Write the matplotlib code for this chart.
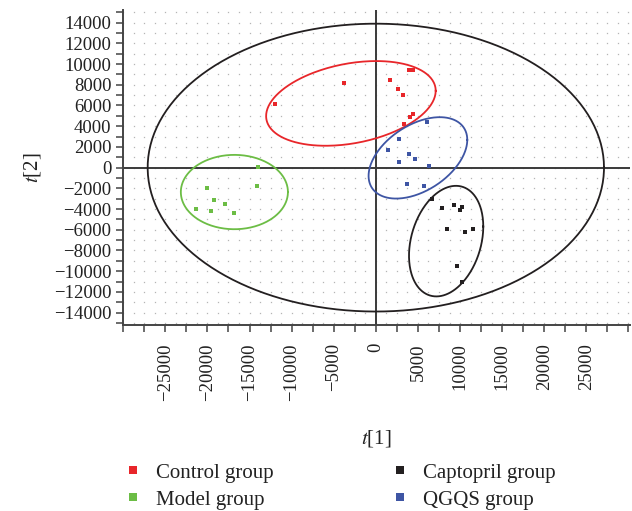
import numpy as np
import matplotlib
matplotlib.use("Agg")
import matplotlib.pyplot as plt
from matplotlib.ticker import MultipleLocator

plt.rcParams['font.family'] = ['Liberation Serif', 'DejaVu Serif']
plt.rcParams['mathtext.fontset'] = 'stix'

# score values
control_x = [-12000, -3750, 1700, 2640, 3200, 3950, 4420, 4420, 4060, 3350]
control_y = [6150, 8150, 8500, 7600, 7050, 9460, 9460, 5200, 4860, 4250]
model_x = [-14000, -14100, -20000, -19200, -17900, -21400, -19600, -16800]
model_y = [100, -1800, -2000, -3100, -3500, -4000, -4200, -4400]
capto_x = [6670, 7860, 9280, 10230, 9990, 8450, 10580, 11530, 9630, 10230]
capto_y = [-3050, -3860, -3570, -3760, -4080, -5950, -6200, -5890, -9520, -11000]
qgqs_x = [6080, 2760, 1460, 3950, 4660, 2760, 6320, 3710, 5720]
qgqs_y = [4380, 2740, 1680, 1290, 870, 520, 190, -1600, -1800]

# confidence ellipses: centre x, centre y, half width, half height, y-offset at rightmost point
ell_total = (0, 0, 27100, 13900, 0)
ell_control = (-2960, 6200, 10070, 4090, 1220)
ell_model = (-16800, -2360, 6360, 3590, 0)
ell_capto = (8350, -7100, 4410, 5340, 1410)
ell_qgqs = (5000, 940, 5860, 3930, 1740)

red = '#e8262a'
green = '#6cbd45'
black = '#231f20'
blue = '#3e55a4'


def draw_ellipse(ax, e, color):
    cx, cy, wx, wy, yr = e
    t = np.linspace(0, 2 * np.pi, 300)
    x = cx + wx * np.cos(t)
    y = cy + yr * np.cos(t) + np.sqrt(wy ** 2 - yr ** 2) * np.sin(t)
    ax.plot(x, y, color=color, lw=1.3, zorder=3)


fig = plt.figure(figsize=(6.32, 5.11), dpi=100)
ax = fig.add_axes([0.195, 0.364, 0.802, 0.616])

ax.set_xlim(-30000, 30200)
ax.set_ylim(-15200, 15200)

# dotted background lattice
gx, gy = np.meshgrid(np.arange(-30000, 30001, 1250), np.arange(-15000, 15001, 1000))
ax.plot(gx.ravel(), gy.ravel(), ls='none', marker='s', ms=0.9, mew=0,
        color='#b5b5b5', zorder=0)

ax.axhline(0, color='#3a3a3a', lw=1.4, zorder=1)
ax.axvline(0, color='#3a3a3a', lw=1.4, zorder=1)

draw_ellipse(ax, ell_total, black)
draw_ellipse(ax, ell_control, red)
draw_ellipse(ax, ell_model, green)
draw_ellipse(ax, ell_capto, black)
draw_ellipse(ax, ell_qgqs, blue)

ms = 3.3
ax.plot(control_x, control_y, 's', color=red, ms=ms, mew=0, zorder=4)
ax.plot(model_x, model_y, 's', color=green, ms=ms, mew=0, zorder=4)
ax.plot(capto_x, capto_y, 's', color=black, ms=ms, mew=0, zorder=4)
ax.plot(qgqs_x, qgqs_y, 's', color=blue, ms=ms, mew=0, zorder=4)

for s in ['top', 'right']:
    ax.spines[s].set_visible(False)
for s in ['left', 'bottom']:
    ax.spines[s].set_color('#444444')
    ax.spines[s].set_linewidth(1.4)

ax.xaxis.set_major_locator(MultipleLocator(5000))
ax.xaxis.set_minor_locator(MultipleLocator(2500))
ax.yaxis.set_major_locator(MultipleLocator(2000))
ax.yaxis.set_minor_locator(MultipleLocator(1000))
ax.set_xticks(np.arange(-25000, 25001, 5000))
ax.set_yticks(np.arange(-14000, 14001, 2000))
ax.tick_params(which='both', direction='out', length=5, width=1.1, color='#444444')
ax.tick_params(axis='x', labelrotation=90, pad=8)
ax.tick_params(labelsize=13.5, labelcolor='#222222')
ax.set_xticklabels([f'{v:d}'.replace('-', '\u2212') for v in np.arange(-25000, 25001, 5000)])
ax.set_yticklabels([f'{v:d}'.replace('-', '\u2212') for v in np.arange(-14000, 14001, 2000)])

ax.set_xlabel(r'$t$[1]', fontsize=15, color='#222222', labelpad=20)
ax.set_ylabel(r'$t$[2]', fontsize=15, color='#222222', labelpad=8)

handles = [
    plt.Line2D([], [], ls='none', marker='s', ms=6, mew=0, color=red),
    plt.Line2D([], [], ls='none', marker='s', ms=6, mew=0, color=green),
    plt.Line2D([], [], ls='none', marker='s', ms=6, mew=0, color=black),
    plt.Line2D([], [], ls='none', marker='s', ms=6, mew=0, color=blue),
]
labels = ['Control group', 'Model group', 'Captopril group', 'QGQS group']
fig.legend(handles, labels, ncol=2, loc='lower left', bbox_to_anchor=(0.171, -0.034),
           frameon=False, fontsize=15, handlelength=0.6, handletextpad=0.8,
           columnspacing=5.75, labelspacing=0.35, labelcolor='#222222')

fig.savefig('out.png', dpi=100)
